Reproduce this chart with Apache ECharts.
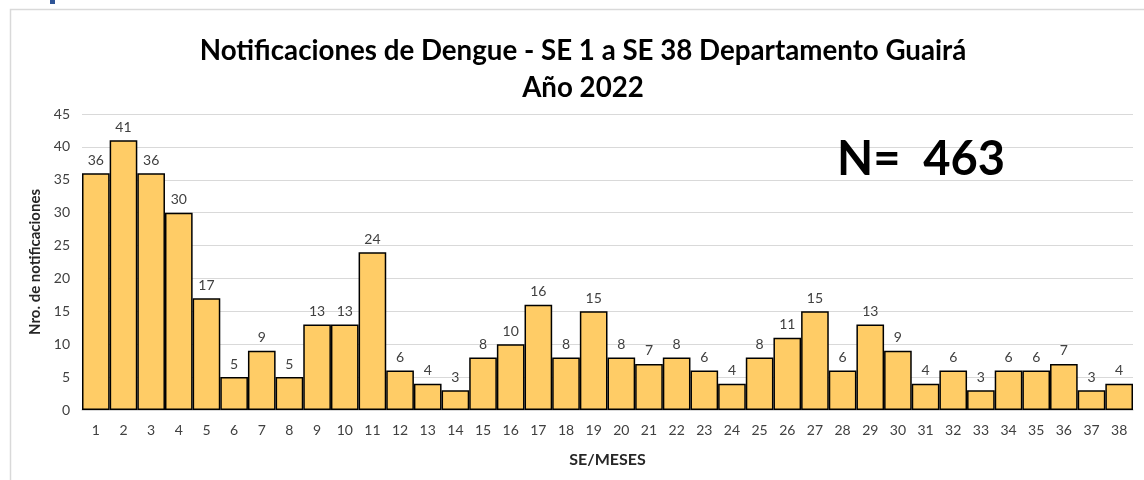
<!DOCTYPE html>
<html><head><meta charset="utf-8">
<script src="https://cdn.jsdelivr.net/npm/echarts@6/dist/echarts.min.js"></script>
<style>html,body{margin:0;padding:0;background:#fff}#c{width:1144px;height:480px}</style>
</head><body><div id="c"></div>
<script>
const categories = ["1","2","3","4","5","6","7","8","9","10","11","12","13","14","15","16","17","18","19","20","21","22","23","24","25","26","27","28","29","30","31","32","33","34","35","36","37","38"];
const values = [36,41,36,30,17,5,9,5,13,13,24,6,4,3,8,10,16,8,15,8,7,8,6,4,8,11,15,6,13,9,4,6,3,6,6,7,3,4];
const titleLines = ["Notificaciones de Dengue - SE 1 a SE 38 Departamento Guairá", "Año 2022"];
const totalLabel = "N=  463";
const yAxisTitle = "Nro. de notificaciones";
const xAxisTitle = "SE/MESES";

const chart = echarts.init(document.getElementById('c'), null, {renderer:'canvas'});
chart.setOption({
  animation:false,
  backgroundColor:'#fff',
  title:{
    text: titleLines.join('\n'),
    left: 578, top: 28, textAlign:'center',
    textStyle:{fontFamily:'Lato', fontWeight:'bold', fontSize:27.7, color:'#000', lineHeight:37}
  },
  graphic:[
    {type:'rect', left:8, top:7, shape:{width:1200, height:600}, style:{fill:'none', stroke:'#d9d9d9', lineWidth:1.5}, silent:true, z:0},
    {type:'rect', left:50, top:0, shape:{width:5, height:4}, style:{fill:'#2f5597'}, silent:true},
    {type:'text', left:837, top:136, z:100, style:{text:totalLabel, font:'bold 47px Lato', fill:'#000'}}
  ],
  grid:{left:82, right:11, top:114, bottom:70, containLabel:false},
  xAxis:{
    type:'category', data:categories,
    name:xAxisTitle, nameLocation:'middle', nameGap:42,
    nameTextStyle:{fontFamily:'Lato', fontWeight:'bold', fontSize:16, color:'#262626'},
    axisLine:{lineStyle:{color:'#d9d9d9', width:1.5}},
    axisTick:{show:false},
    axisLabel:{fontFamily:'Lato', fontSize:14, color:'#404040', margin:13, interval:0}
  },
  yAxis:{
    type:'value', min:0, max:45, interval:5,
    name:yAxisTitle, nameLocation:'middle', nameGap:38, nameRotate:90,
    nameTextStyle:{fontFamily:'Lato', fontWeight:'bold', fontSize:15, color:'#262626'},
    axisLine:{show:false}, axisTick:{show:false},
    axisLabel:{fontFamily:'Lato', fontSize:14, color:'#404040', margin:12},
    splitLine:{lineStyle:{color:'#d9d9d9', width:1.2}}
  },
  series:[{
    type:'bar', data:values, barCategoryGap:'0%',
    itemStyle:{color:'#FFCC66', borderColor:'#000', borderWidth:1.5},
    label:{show:true, position:'top', distance:6, fontFamily:'Lato', fontSize:14, color:'#404040'}
  }]
});
</script></body></html>
